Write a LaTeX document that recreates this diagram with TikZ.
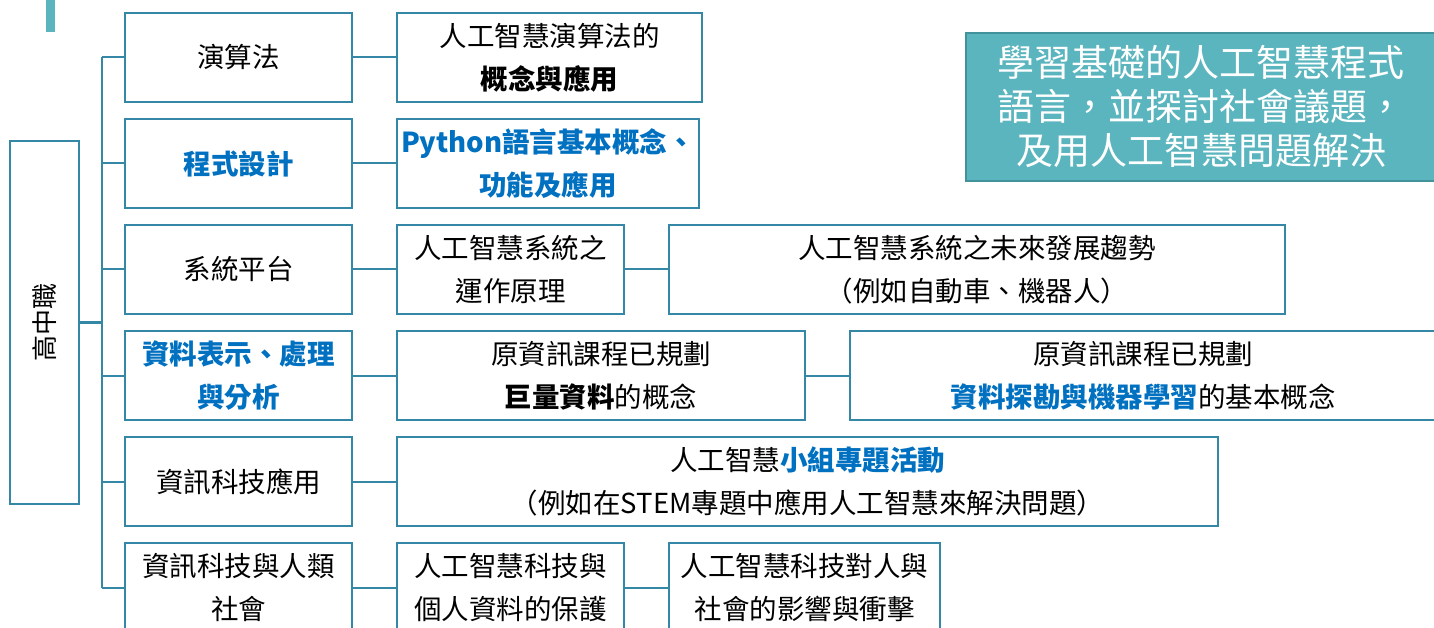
\documentclass[tikz,border=0pt]{standalone}
\usepackage{fontspec}
\setmainfont{Noto Sans CJK TC}
\newfontfamily\cjk{Noto Sans CJK TC}
\definecolor{bordercol}{RGB}{52,136,166}
\definecolor{tealfill}{RGB}{91,181,191}
\definecolor{tealedge}{RGB}{66,146,156}
\definecolor{blueword}{RGB}{0,112,192}
\tikzset{
  box/.style={draw=bordercol, line width=2pt, fill=white, align=center, inner sep=0pt,
    minimum height=89pt, font=\cjk\fontsize{27.5}{43}\selectfont, text=black},
  conn/.style={draw=bordercol, line width=2pt},
}
\newcommand{\bl}[1]{\textcolor{blueword}{\bfseries #1}}
\begin{document}
\begin{tikzpicture}[x=1pt,y=-1pt]
\useasboundingbox (0,0) rectangle (1434,628);
\fill[white] (0,0) rectangle (1434,628);
\fill[tealfill] (46,0) rectangle (55,32);

% root
\node[box, minimum width=69pt, minimum height=363pt] (root) at (44.5,322.5) {};
\node[rotate=90, font=\cjk\fontsize{26}{30}\selectfont] (roottext) at (root.center) {高中職};

% trunk
\coordinate (tTop) at (102,57.5);
\coordinate (tBot) at (102,587.5);

% column 1
\node[box, minimum width=227pt] (c1) at (238.5,57.5) {演算法};
\node[box, minimum width=227pt] (c2) at (238.5,163.5) {\bl{程式設計}};
\node[box, minimum width=227pt] (c3) at (238.5,269.5) {系統平台};
\node[box, minimum width=227pt] (c4) at (238.5,375.5) {\bl{資料表示、處理}\\\bl{與分析}};
\node[box, minimum width=227pt] (c5) at (238.5,481.5) {資訊科技應用};
\node[box, minimum width=227pt] (c6) at (238.5,587.5) {資訊科技與人類\\社會};

% column 2
\node[box, minimum width=305pt] (d1) at (549.5,57.5) {人工智慧演算法的\\{\bfseries 概念與應用}};
\node[box, minimum width=302pt] (d2) at (548,163.5) {\bl{Python語言基本概念、}\\\bl{功能及應用}};
\node[box, minimum width=227pt] (d3) at (510.5,269.5) {人工智慧系統之\\運作原理};
\node[box, minimum width=408pt] (d4) at (601,375.5) {原資訊課程已規劃\\{\bfseries 巨量資料}的概念};
\node[box, minimum width=821pt] (d5) at (807.5,481.5) {人工智慧\bl{小組專題活動}\\（例如在STEM專題中應用人工智慧來解決問題）};
\node[box, minimum width=227pt] (d6) at (510.5,587.5) {人工智慧科技與\\個人資料的保護};

% column 3
\node[box, minimum width=616pt] (e3) at (977,269.5) {人工智慧系統之未來發展趨勢\\（例如自動車、機器人）};
\node[box, minimum width=586pt] (e4) at (1143,375.5) {原資訊課程已規劃\\\bl{資料探勘與機器學習}的基本概念};
\node[box, minimum width=271pt] (e6) at (804.5,587.5) {人工智慧科技對人與\\社會的影響與衝擊};

% goal box
\node[draw=tealedge, line width=2pt, fill=tealfill, text=white, align=center, inner sep=0pt,
  minimum width=470pt, minimum height=148pt, font=\cjk\fontsize{37}{44}\selectfont]
  (goal) at (1201,107) {學習基礎的人工智慧程式\\語言，並探討社會議題，\\及用人工智慧問題解決};

% connectors
\draw[conn] (tTop) -- (tBot);
\draw[conn, line width=3pt] (root.east) -- (root.east -| tTop);
\foreach \n in {c1,c2,c3,c4,c5,c6} {\draw[conn] (\n.west) -- (\n.west -| tTop);}
\draw[conn] (c1.east) -- (d1.west);
\draw[conn] (c2.east) -- (d2.west);
\draw[conn] (c3.east) -- (d3.west);
\draw[conn] (c4.east) -- (d4.west);
\draw[conn] (c5.east) -- (d5.west);
\draw[conn] (c6.east) -- (d6.west);
\draw[conn] (d3.east) -- (e3.west);
\draw[conn] (d4.east) -- (e4.west);
\draw[conn] (d6.east) -- (e6.west);
\end{tikzpicture}
\end{document}
